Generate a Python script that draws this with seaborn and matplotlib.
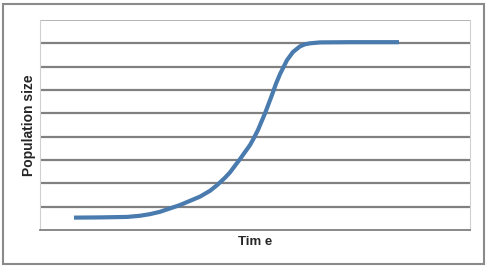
import matplotlib
matplotlib.use("Agg")
import matplotlib.pyplot as plt
import seaborn as sns
import pandas as pd
from matplotlib.patches import Rectangle

time = [3.4, 6.0, 8.7, 10.0, 11.0, 12.0, 14.0, 16.0, 17.0, 17.7, 18.5, 19.0, 20.0, 20.5,
        21.0, 21.4, 21.8, 22.5, 23.2, 23.6, 24.0, 24.7, 25.3, 26.0, 26.5, 27.0, 28.0,
        31.0, 35.9]
population = [0.53, 0.54, 0.56, 0.61, 0.68, 0.78, 1.07, 1.43, 1.68, 1.92, 2.24, 2.47,
              3.04, 3.34, 3.64, 3.95, 4.29, 5.0, 5.79, 6.27, 6.68, 7.28, 7.63, 7.87,
              7.96, 8.0, 8.04, 8.05, 8.05]
x_label = "Tim e"
y_label = "Population size"

df = pd.DataFrame({"time": time, "population": population})

sns.set_style("white")
plt.rcParams["font.family"] = ["Liberation Sans", "DejaVu Sans"]

fig = plt.figure(figsize=(4.89, 2.68), dpi=100)
ax = fig.add_axes([40/489, 1-230/268, 430/489, 210/268])

fig.patches.append(Rectangle((3/489, 4/268), 481/489, 260/268, transform=fig.transFigure,
                             fill=False, edgecolor="#8a8a8a", linewidth=1.5))

for g in range(1, 9):
    ax.axhline(g, color="#808080", linewidth=1.6, zorder=1)
ax.axhline(9, color="#a8a8a8", linewidth=1.2, zorder=1)

sns.lineplot(data=df, x="time", y="population", ax=ax, color="#4A7BAE",
             linewidth=3.0, zorder=3, solid_capstyle="butt", solid_joinstyle="round")

ax.set_xlim(0, 43)
ax.set_ylim(0, 9)
ax.set_xticks([])
ax.set_yticks([])
ax.set_xlabel(x_label, fontsize=9.5, fontweight="bold", labelpad=4)
ax.set_ylabel(y_label, fontsize=10, fontweight="bold", labelpad=3)

for side in ["left", "right"]:
    ax.spines[side].set_color("#d0d0d0")
    ax.spines[side].set_linewidth(0.8)
ax.spines["top"].set_visible(False)
ax.spines["bottom"].set_color("#808080")
ax.spines["bottom"].set_linewidth(1.3)

fig.savefig("out.png", dpi=100)
